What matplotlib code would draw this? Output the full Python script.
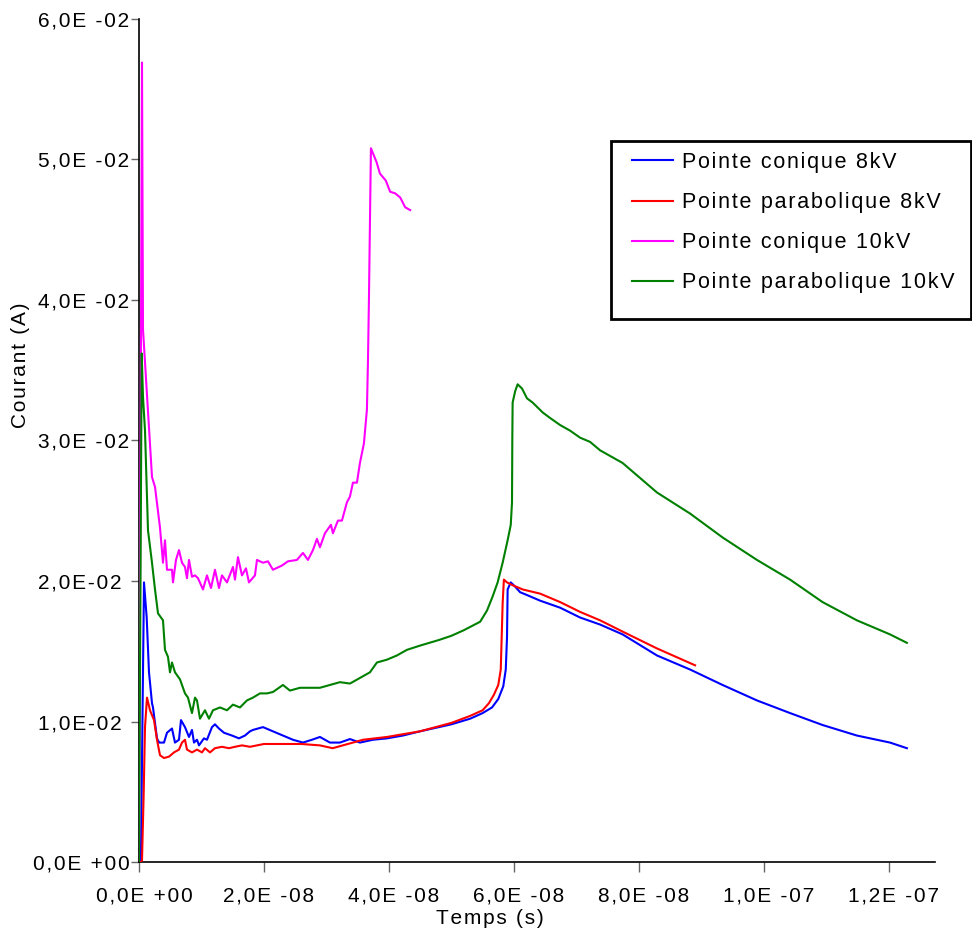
import matplotlib
matplotlib.use("Agg")
import matplotlib.pyplot as plt
import matplotlib.transforms as mtransforms
from matplotlib.patches import Rectangle
import numpy as np

plt.rcParams["font.family"] = ["Liberation Sans", "DejaVu Sans"]

# time in ns, current in mA
t_con8 = [0.0, 0.3, 0.5, 0.8, 1.23, 1.6, 2.08, 2.24, 2.88, 3.2, 3.36, 4.0, 4.48, 5.28, 5.76,
          6.4, 6.72, 7.36, 8.0, 8.48, 8.8, 9.28, 9.6, 10.4, 10.88, 11.68, 12.16, 12.8, 13.6,
          14.88, 16.0, 16.96, 17.76, 18.24, 19.84, 21.44, 23.04, 24.64, 26.24, 27.68, 28.96,
          30.56, 32.16, 33.76, 35.36, 37.44, 39.68, 42.24, 44.96, 48.0, 50.0, 53.0, 55.0,
          56.5, 57.5, 58.3, 58.7, 58.9, 59.0, 59.5, 60.2, 61.0, 62.1, 64.2, 67.4, 70.6, 73.8,
          77.4, 82.9, 88.2, 93.4, 98.9, 104.2, 109.4, 114.9, 120.2, 122.9]
i_con8 = [0.0, 0.0, 8.0, 19.9, 17.4, 13.5, 11.3, 11.0, 8.8, 8.5, 8.5, 8.5, 9.2, 9.5, 8.5,
          8.7, 10.1, 9.6, 8.9, 9.4, 8.5, 8.7, 8.3, 8.8, 8.7, 9.6, 9.8, 9.5, 9.2,
          9.0, 8.8, 9.0, 9.3, 9.4, 9.6, 9.3, 9.0, 8.7, 8.5, 8.7, 8.9,
          8.5, 8.5, 8.75, 8.5, 8.7, 8.8, 9.0, 9.3, 9.6, 9.8, 10.2, 10.6,
          11.0, 11.6, 12.5, 13.7, 16.0, 19.4, 19.9, 19.6, 19.2, 19.0, 18.6, 18.1, 17.4, 16.9,
          16.2, 14.7, 13.7, 12.6, 11.5, 10.6, 9.75, 9.0, 8.5, 8.1]

t_par8 = [0.0, 0.3, 0.48, 0.75, 0.96, 1.28, 1.76, 2.4, 2.88, 3.36, 4.0, 4.8, 5.6, 6.4, 6.88,
          7.36, 7.68, 8.48, 9.28, 10.08, 10.56, 11.36, 12.16, 13.28, 14.4, 15.36, 16.48,
          17.76, 20.0, 23.0, 26.0, 28.96, 31.0, 34.24, 35.84, 39.68, 44.96, 50.0, 53.0, 55.0,
          56.0, 56.8, 57.5, 57.9, 58.2, 58.4, 58.9, 59.8, 61.4, 64.2, 67.4, 70.6, 73.8, 77.4,
          82.9, 89.0]
i_par8 = [0.0, 0.0, 0.1, 4.9, 9.6, 11.7, 10.8, 10.1, 8.7, 7.6, 7.4, 7.5, 7.8, 8.0, 8.5,
          8.7, 8.0, 7.8, 8.0, 7.8, 8.1, 7.8, 8.1, 8.2, 8.1, 8.2, 8.3,
          8.2, 8.4, 8.4, 8.4, 8.3, 8.1, 8.5, 8.7, 8.9, 9.3, 9.9, 10.4, 10.8,
          11.3, 11.9, 12.6, 13.7, 18.4, 20.1, 19.9, 19.7, 19.4, 19.1, 18.5, 17.8, 17.2, 16.4,
          15.2, 14.0]

t_con10 = [0.0, 0.48, 0.64, 2.08, 2.56, 3.36, 3.84, 4.16, 4.48, 5.28, 5.44, 5.92, 6.4, 6.88,
           7.36, 7.68, 8.0, 8.48, 8.96, 9.44, 10.24, 10.88, 11.52, 12.16, 12.8, 13.28, 14.08,
           15.04, 15.36, 15.84, 16.48, 17.12, 17.6, 18.56, 18.88, 19.84, 20.64, 21.44, 22.88,
           23.84, 25.28, 26.24, 27.04, 27.84, 28.48, 28.96, 29.76, 30.72, 31.04, 31.84, 32.48,
           33.28, 33.76, 34.24, 34.88, 35.36, 36.0, 36.48, 36.64, 36.8, 37.12, 38.03, 38.56,
           39.5, 40.2, 40.96, 41.8, 42.6, 43.4]
i_con10 = [0.0, 56.9, 37.9, 27.4, 26.7, 23.8, 21.3, 22.9, 20.8, 20.8, 19.9, 21.5, 22.2, 21.3,
           21.0, 20.2, 21.5, 20.3, 20.4, 20.2, 19.4, 20.4, 19.5, 20.8, 19.5, 20.4, 19.9,
           21.0, 20.1, 21.7, 20.4, 20.9, 19.9, 20.4, 21.5, 21.3, 21.4, 20.8, 21.1,
           21.4, 21.5, 22.0, 21.5, 22.2, 23.0, 22.4, 23.4, 24.0, 23.4, 24.3, 24.3,
           25.6, 26.0, 27.0, 27.0, 28.4, 29.8, 32.2, 35.5, 40.0, 50.8, 49.8, 49.0,
           48.5, 47.7, 47.6, 47.3, 46.6, 46.4]

t_par10 = [0.0, 0.43, 0.64, 0.96, 1.44, 2.08, 2.56, 3.04, 3.84, 4.16, 4.64, 4.96, 5.28, 5.76,
           6.56, 7.36, 7.84, 8.48, 8.96, 9.28, 9.76, 10.56, 11.2, 11.84, 12.96, 14.08, 15.04,
           16.16, 17.28, 18.24, 19.36, 20.48, 21.44, 23.04, 24.16, 25.76, 27.36, 28.96, 30.56,
           32.16, 33.76, 35.36, 36.96, 38.08, 39.68, 41.28, 42.88, 44.96, 48.0, 50.0, 52.0,
           54.6, 55.7, 56.6, 57.4, 58.2, 59.0, 59.5, 59.7, 59.75, 59.8, 60.2, 60.6, 61.3, 62.1,
           63.0, 64.6, 65.8, 67.4, 69.0, 70.6, 72.2, 73.8, 77.4, 82.9, 88.2, 93.4, 98.9,
           104.2, 109.4, 114.9, 120.2, 122.9]
i_par10 = [0.0, 36.2, 33.1, 30.7, 23.6, 21.3, 19.4, 17.7, 17.2, 15.1, 14.6, 13.5, 14.2, 13.5,
           13.0, 12.0, 11.7, 10.6, 11.7, 11.5, 10.2, 10.8, 10.2, 10.8, 11.0, 10.8, 11.2,
           11.0, 11.5, 11.7, 12.0, 12.0, 12.1, 12.6, 12.2, 12.4, 12.4, 12.4, 12.6,
           12.8, 12.7, 13.1, 13.5, 14.2, 14.4, 14.7, 15.1, 15.4, 15.8, 16.1, 16.5,
           17.1, 17.9, 18.9, 19.9, 21.3, 22.9, 24.0, 25.6, 30.2, 32.7, 33.5, 34.0, 33.7, 33.0,
           32.7, 32.0, 31.6, 31.1, 30.7, 30.2, 29.9, 29.3, 28.4, 26.3, 24.8, 23.1, 21.5,
           20.1, 18.5, 17.2, 16.2, 15.6]

series = [
    ("Pointe conique 8kV", t_con8, i_con8, "#0000ff"),
    ("Pointe parabolique 8kV", t_par8, i_par8, "#ff0000"),
    ("Pointe conique 10kV", t_con10, i_con10, "#ff00ff"),
    ("Pointe parabolique 10kV", t_par10, i_par10, "#008000"),
]

x_ticks = [0.0, 2e-8, 4e-8, 6e-8, 8e-8, 1e-7, 1.2e-7]
x_labels = ["0,0E +00", "2,0E -08", "4,0E -08", "6,0E -08", "8,0E -08", "1,0E -07", "1,2E -07"]
y_ticks = [0.0, 0.01, 0.02, 0.03, 0.04, 0.05, 0.06]
y_labels = ["0,0E +00", "1,0E-02 ", "2,0E-02 ", "3,0E -02", "4,0E -02", "5,0E -02", "6,0E -02"]


def spaced(s):
    # the original export uses wide letter spacing
    return "\u200a".join(s)


fig = plt.figure(figsize=(9.72, 9.32), dpi=100)
ax = fig.add_axes([139 / 972, 70 / 932, 796 / 972, 843 / 932])

# draw order: magenta and green behind, red and blue in front
for idx in [2, 3, 1, 0]:
    label, t, i, c = series[idx]
    ax.plot(np.array(t) * 1e-9, np.array(i) * 1e-3, color=c, lw=1.5, label=label, zorder=3 + idx)

ax.set_xlim(0, 1.274e-7)
ax.set_ylim(0, 0.06)
ax.set_xticks(x_ticks)
ax.set_xticklabels([spaced(s) for s in x_labels], fontsize=15)
ax.set_yticks(y_ticks)
ax.set_yticklabels([spaced(s) for s in y_labels], fontsize=15)
ax.tick_params(axis="x", direction="out", length=7, width=1, colors="#666666",
               labelcolor="black", pad=11)
ax.tick_params(axis="y", direction="out", length=6, width=1, colors="#666666",
               labelcolor="black", pad=1)
shift = mtransforms.ScaledTranslation(5 / 100, 0, fig.dpi_scale_trans)
for lab in ax.get_xticklabels():
    lab.set_transform(lab.get_transform() + shift)
for s in ["top", "right"]:
    ax.spines[s].set_visible(False)
for s in ["left", "bottom"]:
    ax.spines[s].set_linewidth(1.2)

ax.set_xlabel(spaced("Temps (s)"), fontsize=15)
ax.set_ylabel(spaced("Courant (A)"), fontsize=15)
ax.xaxis.set_label_coords((490 - 139) / 796, -(918 - 862) / 843)
ax.xaxis.label.set_va("center")
ax.yaxis.set_label_coords((21 - 139) / 796, (862 - 365) / 843)
ax.yaxis.label.set_va("center")

handles, labels = ax.get_legend_handles_labels()
order = [labels.index(s[0]) for s in series]
leg = fig.legend([handles[k] for k in order], [spaced(labels[k]) for k in order],
                 loc="upper left", bbox_to_anchor=(632 / 972, 1 - 152 / 932),
                 fontsize=15.5, frameon=False, handlelength=1.9, borderpad=0,
                 borderaxespad=0, labelspacing=0.89, handletextpad=0.42)
fig.patches.append(Rectangle((611 / 972, 1 - 319 / 932), 360 / 972, 178 / 932,
                             transform=fig.transFigure, fill=False, edgecolor="black",
                             linewidth=2, zorder=10))

fig.savefig("out.png", dpi=100)
